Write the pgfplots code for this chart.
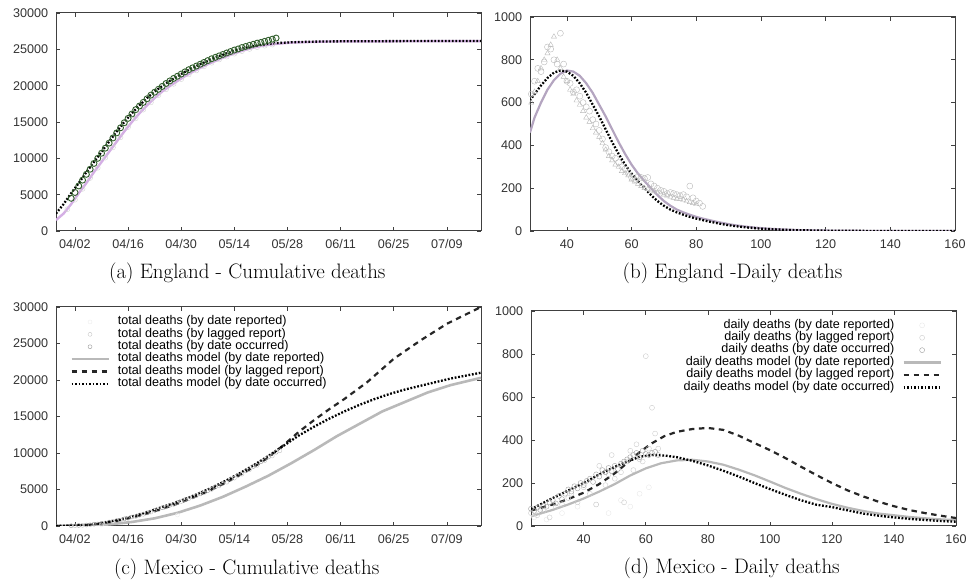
\documentclass[border=0pt]{standalone}
\usepackage{fontspec}
\setsansfont{Liberation Sans}
\usepackage{pgfplots}
\pgfplotsset{compat=1.18}
\newcommand{\ticksfont}{\fontsize{12.6}{14}\selectfont\sffamily}
\definecolor{violetline}{RGB}{212,175,228}
\definecolor{greenpt}{RGB}{50,95,45}
\pgfplotsset{
  lline/.style={legend image code/.code={\draw[##1] (0pt,0pt) -- (37pt,0pt);}},
  lmark/.style={legend image code/.code={\draw[mark repeat=2,mark phase=2,##1] plot coordinates {(0pt,0pt) (18.5pt,0pt) (37pt,0pt)};}},
  panel/.style={scale only axis, axis line style={black!75, line width=1pt},
    tick style={black!75, line width=0.6pt}, major tick length=4pt, tick align=inside,
    ticklabel style={font=\ticksfont, text=black!80, inner sep=0pt},
    yticklabel style={xshift=-7.7pt}, xticklabel style={yshift=-8.3pt},
    /pgf/number format/assume math mode=true,
    /pgf/number format/set thousands separator={}, scaled ticks=false},
  datepanel/.style={panel, xmin=88, xmax=200, ymin=0, ymax=30000,
    xtick={93,107,121,135,149,163,177,191},
    xticklabels={04/02,04/16,04/30,05/14,05/28,06/11,06/25,07/09},
    ytick={0,5000,10000,15000,20000,25000,30000}},
  daypanel/.style={panel, xmax=160, ymin=0, ymax=1000,
    xtick={40,60,80,100,120,140,160}, ytick={0,200,400,600,800,1000}},
  dotline/.style={black, line width=2.3pt, dash pattern=on 1.8pt off 1.7pt},
  dashline/.style={black!85, line width=2.2pt, dash pattern=on 5.5pt off 4.5pt},
  grayline/.style={gray!55, line width=2.2pt},
}
\begin{document}
\begin{tikzpicture}[x=1pt,y=1pt]
\useasboundingbox (0,0) rectangle (967,584);
% (a) England cumulative
\begin{axis}[datepanel, at={(56pt,353pt)}, anchor=south west, width=425pt, height=218pt]
\addplot[violetline, line width=2.4pt] coordinates {
(88,1500)(90,2400)(92,3700)(94,5200)(96,6600)(98,8100)(100,9500)(102,10900)(104,12300)(106,13700)
(108,15000)(110,16200)(112,17300)(114,18300)(116,19200)(118,19950)(120,20650)(122,21300)(124,21900)
(126,22450)(128,22950)(130,23400)(132,23850)(134,24250)(136,24620)(138,24950)(140,25230)(142,25450)
(144,25620)(146,25750)(150,25930)(160,26080)(200,26140)};
\addplot[only marks, mark=o, mark size=2.5pt, draw=gray!35] coordinates {
(91,3000)(93,4300)(95,5800)(97,7300)(99,8700)(101,10100)(103,11500)(105,12900)(107,14300)(109,15500)
(111,16700)(113,17700)(115,18700)(117,19500)(119,20250)(121,20900)(123,21550)(125,22100)(127,22650)
(129,23150)(131,23600)(133,24000)(135,24400)(137,24750)(139,25050)(141,25300)(143,25500)(145,25650)};
\addplot[only marks, mark=o, mark size=3pt, draw=greenpt, line width=0.9pt, mark options={fill=green!40}] coordinates {
(92,4500)(93,5300)(94,6200)(95,7000)(96,7800)(97,8500)(98,9300)(99,10000)(100,10700)(101,11400)
(102,12100)(103,12800)(104,13500)(105,14200)(106,14900)(107,15500)(108,16100)(109,16700)(110,17200)
(111,17700)(112,18200)(113,18700)(114,19100)(115,19500)(116,19900)(117,20300)(118,20650)(119,21000)
(120,21300)(121,21600)(122,21900)(123,22200)(124,22450)(125,22700)(126,22950)(127,23200)(128,23450)
(129,23700)(130,23900)(131,24100)(132,24300)(133,24500)(134,24700)(135,24900)(136,25050)(137,25250)
(138,25400)(139,25550)(140,25700)(141,25850)(142,25950)(143,26100)(144,26250)(145,26400)(146,26550)};
\addplot[dotline] coordinates {
(88,2400)(90,3700)(92,5200)(94,6600)(96,8100)(98,9500)(100,10900)(102,12300)(104,13700)(106,15000)
(108,16200)(110,17300)(112,18300)(114,19200)(116,19950)(118,20650)(120,21300)(122,21900)(124,22450)
(126,22950)(128,23400)(130,23850)(132,24250)(134,24620)(136,24950)(138,25230)(140,25450)(142,25620)
(144,25750)(146,25850)(150,25970)(155,26050)(160,26090)(170,26120)(185,26140)(200,26150)};
\end{axis}
% (b) England daily
\begin{axis}[daypanel, xmin=28.6, at={(530pt,353pt)}, anchor=south west, width=425pt, height=214pt]
\addplot[only marks, mark=o, mark size=3pt, draw=gray!55] coordinates {
(29,640)(30,700)(31,760)(32,745)(33,790)(34,860)(35,850)(36,800)(37,780)(38,924)(39,780)(40,700)
(41,690)(42,650)(43,660)(44,630)(45,600)(46,580)(47,560)(48,520)(49,500)(50,470)(51,430)(52,390)
(53,370)(54,350)(55,340)(56,320)(57,300)(58,290)(59,270)(60,250)(61,240)(62,255)(63,250)(64,245)
(65,250)(66,220)(67,210)(68,200)(69,190)(70,185)(71,175)(72,180)(73,175)(74,170)(75,165)(76,170)
(77,160)(78,210)(79,155)(80,140)(81,130)(82,115)};
\addplot[only marks, mark=triangle, mark size=3pt, draw=gray!55] coordinates {
(29,600)(30,650)(31,700)(32,760)(33,800)(34,830)(35,870)(36,908)(37,800)(38,760)(39,720)(40,700)
(41,660)(42,640)(43,610)(44,590)(45,560)(46,530)(47,510)(48,480)(49,460)(50,440)(51,410)(52,380)
(53,350)(54,330)(55,310)(56,300)(57,280)(58,270)(59,260)(60,240)(61,230)(62,220)(63,210)(64,200)
(65,195)(66,190)(67,185)(68,180)(69,175)(70,170)(71,165)(72,160)(73,155)(74,150)(75,150)(76,145)
(77,140)(78,135)(79,130)(80,125)};
\addplot[color={rgb,255:red,180;green,165;blue,192}, line width=2.2pt] coordinates {
(28.6,460)(30,530)(32,600)(34,660)(36,705)(38,735)(40,750)(42,745)(44,725)(46,690)(48,645)(50,590)
(52,535)(54,475)(56,415)(58,360)(60,310)(62,268)(64,233)(66,200)(68,168)(70,140)(72,118)(74,100)
(76,87)(78,76)(80,66)(82,58)(84,51)(86,44)(88,38)(90,32)(92,27)(95,21)(98,16)(102,11)(107,7)
(112,4)(122,1.5)(132,0.5)(147,0.1)(160,0)};
\addplot[dotline] coordinates {
(28.6,610)(30,640)(32,680)(34,715)(36,740)(38,750)(40,745)(42,725)(44,690)(46,645)(48,590)(50,535)
(52,475)(54,415)(56,360)(58,310)(60,268)(62,233)(64,200)(66,168)(68,140)(70,118)(72,100)(74,87)
(76,76)(78,66)(80,58)(82,51)(84,44)(86,38)(88,32)(90,27)(93,21)(96,16)(100,11)(105,7)(110,4)
(120,1.5)(130,0.5)(145,0.1)(160,0)};
\end{axis}
% (c) Mexico cumulative
\begin{axis}[datepanel, at={(56pt,58pt)}, anchor=south west, width=425pt, height=219pt,
  legend style={font=\ticksfont, draw=none, fill=none, inner sep=0pt, row sep=0pt, column sep=8pt,
    at={(0.033,0.961)}, anchor=north west, nodes={inner sep=0pt, text height=8.9pt, text depth=3.5pt}},
  legend cell align=left]
\addplot[lmark, only marks, mark=o, mark size=2pt, draw=gray!15] coordinates {(100,150)(120,1500)};
\addlegendentry{total deaths (by date reported)}
\addplot[lmark, only marks, mark=o, mark size=2pt, draw=gray!45] coordinates {
(93,30)(95,90)(97,180)(99,290)(101,430)(103,600)(105,800)(107,1050)(109,1300)(111,1600)(113,1900)
(115,2250)(117,2600)(119,2950)(121,3350)(123,3750)(125,4150)(127,4550)(129,5000)(131,5500)(133,6000)
(135,6550)(137,7100)(139,7700)(141,8300)(143,8950)(145,9600)(147,10300)};
\addlegendentry{total deaths (by lagged report)}
\addplot[lmark, only marks, mark=o, mark size=2pt, draw=gray!80] coordinates {
(92,40)(94,80)(96,140)(98,250)(100,370)(102,540)(104,740)(106,980)(108,1230)(110,1500)(112,1800)
(114,2150)(116,2500)(118,2850)(120,3200)(122,3600)(124,4000)(126,4400)(128,4850)(130,5350)(132,5850)
(134,6400)(136,6950)(138,7550)(140,8150)(142,8800)(144,9450)(146,10100)};
\addlegendentry{total deaths (by date occurred)}
\addplot[lline, grayline, line width=2.6pt] coordinates {
(88,0)(96,60)(102,220)(108,550)(114,1050)(120,1800)(126,2800)(132,4000)(138,5400)(144,6900)(150,8600)
(156,10400)(162,12300)(168,14000)(174,15700)(180,17000)(186,18300)(192,19300)(200,20300)};
\addlegendentry{total deaths model (by date reported)}
\addplot[lline, dashline] coordinates {
(88,0)(92,40)(96,130)(100,350)(104,700)(108,1150)(112,1700)(116,2350)(120,3050)(124,3850)(128,4750)
(132,5750)(136,6850)(140,8050)(144,9400)(148,11100)(152,12900)(156,14500)(160,16000)(164,17400)
(170,19700)(177,22900)(184,25400)(191,27700)(200,30000)};
\addlegendentry{total deaths model (by lagged report)}
\addplot[lline, dotline] coordinates {
(88,0)(92,50)(96,150)(100,400)(104,800)(108,1300)(112,1900)(116,2600)(120,3300)(124,4100)(128,5000)
(132,6000)(136,7100)(140,8300)(144,9600)(148,11000)(152,12400)(156,13600)(160,14700)(164,15700)
(168,16600)(172,17400)(176,18100)(180,18700)(184,19200)(188,19700)(192,20200)(196,20600)(200,21000)};
\addlegendentry{total deaths model (by date occurred)}
\end{axis}
% (d) Mexico daily
\begin{axis}[daypanel, xmin=23, at={(531pt,58pt)}, anchor=south west, width=425pt, height=215pt,
  legend style={font=\ticksfont, draw=none, fill=none, inner sep=0pt, row sep=0pt, column sep=8pt,
    at={(0.967,0.963)}, anchor=north east, nodes={inner sep=0pt, text height=8.9pt, text depth=3.5pt}},
  legend cell align=right, legend plot pos=right]
\addplot[lmark, only marks, mark=o, mark size=2.5pt, draw=gray!18] coordinates {
(24,40)(28,30)(33,60)(38,90)(44,100)(48,60)(52,120)(55,90)(58,150)(61,180)};
\addlegendentry{daily deaths (by date reported)}
\addplot[lmark, only marks, mark=o, mark size=2.5pt, draw=gray!40] coordinates {
(23,60)(25,50)(27,70)(29,40)(31,90)(33,100)(35,130)(36,150)(38,110)(40,180)(42,150)(44,100)(45,280)
(47,190)(48,240)(49,330)(50,220)(52,250)(53,110)(54,300)(55,350)(56,260)(57,380)(58,310)(59,300)
(60,790)(61,360)(62,550)(63,430)(64,360)};
\addlegendentry{daily deaths (by lagged report)}
\addplot[lmark, only marks, mark=o, mark size=2.5pt, draw=gray!75] coordinates {
(23,80)(24,70)(25,85)(26,75)(27,95)(28,90)(29,110)(30,120)(31,105)(32,140)(33,125)(34,150)(35,170)
(36,160)(37,185)(38,175)(39,200)(40,190)(41,210)(42,220)(43,205)(44,240)(45,230)(46,260)(47,250)
(48,270)(49,255)(50,280)(51,265)(52,290)(53,300)(54,310)(55,320)(56,330)(57,340)(58,320)(59,350)
(60,335)(61,330)(62,340)(63,345)(64,330)};
\addlegendentry{daily deaths (by date occurred)}
\addplot[lline, grayline] coordinates {
(23,45)(30,75)(35,100)(40,128)(45,160)(50,195)(55,235)(60,268)(65,292)(70,305)(75,308)(80,300)(85,285)
(90,262)(95,236)(100,207)(105,177)(110,150)(115,125)(120,103)(125,85)(130,70)(135,58)(140,50)(145,42)
(150,36)(155,31)(160,27)};
\addlegendentry{daily deaths model (by date reported)}
\addplot[lline, dashline] coordinates {
(23,72)(30,100)(35,125)(40,155)(45,195)(50,245)(55,305)(58,343)(62,385)(66,418)(70,438)(75,451)(80,456)
(85,447)(90,420)(95,386)(100,353)(105,316)(110,276)(115,237)(120,200)(125,166)(130,138)(135,113)
(140,92)(145,74)(150,60)(155,48)(160,37)};
\addlegendentry{daily deaths model (by lagged report)}
\addplot[lline, dotline] coordinates {
(23,78)(30,130)(35,165)(40,200)(45,240)(50,275)(55,305)(58,322)(62,330)(66,328)(70,320)(75,303)(80,282)
(85,257)(90,230)(95,200)(100,172)(105,145)(110,120)(115,99)(120,88)(125,73)(130,58)(135,48)(140,40)
(145,33)(150,28)(155,23)(160,20)};
\addlegendentry{daily deaths model (by date occurred)}
\end{axis}
\tikzset{captionnode/.style={font=\fontsize{20.9}{25}\selectfont, inner sep=0pt}}
\node[captionnode] at (247.3,311) {(a) England - Cumulative deaths};
\node[captionnode] at (732.5,311) {(b) England -Daily deaths};
\node[captionnode] at (246.7,15) {(c) Mexico - Cumulative deaths};
\node[captionnode] at (731.7,16) {(d) Mexico - Daily deaths};
\end{tikzpicture}
\end{document}
